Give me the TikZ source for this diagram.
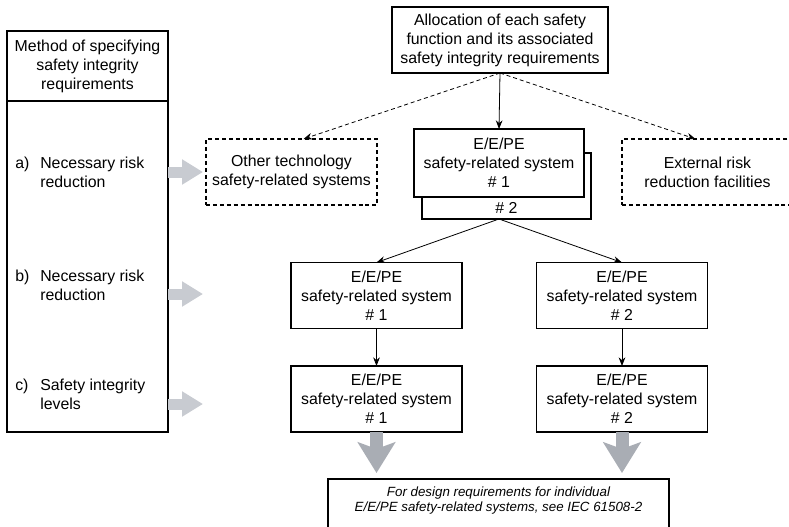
\documentclass[tikz,border=0pt]{standalone}
\usepackage{fontspec}
\setmainfont{Liberation Sans}
\usepackage{tikz}
\usetikzlibrary{positioning, arrows.meta, calc}
\definecolor{sidearr}{HTML}{c8cbd1}
\definecolor{downarr}{HTML}{a9adb4}

\begin{document}
\begin{tikzpicture}[x=0.75pt,y=-0.75pt,font=\fontsize{11.9}{14.25}\selectfont,
  bx/.style={draw, line width=0.8pt, inner sep=0pt, outer sep=0pt, align=center,
    minimum width=128.25pt, minimum height=49.5pt},
  dbx/.style={bx, dash pattern=on 3pt off 2.2pt},
  arr/.style={-{Stealth[length=6.5pt,width=5pt]}, line width=0.6pt},
  darr/.style={arr, dash pattern=on 3pt off 2.2pt},
  gside/.style={sidearr, line width=8.25pt, -{Triangle[length=15.75pt,width=18pt]}},
  gdown/.style={downarr, line width=9.75pt, -{Stealth[length=23pt,width=28pt,inset=5pt]}}]
\path[use as bounding box, clip](0,0) rectangle (789,526);

% left column
\node[bx,minimum width=120.75pt,minimum height=52.5pt](mhead) at (87.5,66){Method of specifying\\safety integrity\\requirements};
\node[bx,minimum width=120.75pt,minimum height=248.25pt,below=0pt of mhead](mbody){};
\node[anchor=west,align=left,inner sep=0pt](ia) at (15,172.5){\makebox[18.75pt][l]{a)}Necessary risk\\\hspace*{18.75pt}reduction};
\node[anchor=west,align=left,inner sep=0pt](ib) at (15,285){\makebox[18.75pt][l]{b)}Necessary risk\\\hspace*{18.75pt}reduction};
\node[anchor=west,align=left,inner sep=0pt](ic) at (15,394){\makebox[18.75pt][l]{c)}Safety integrity\\\hspace*{18.75pt}levels};

% top of the tree
\node[bx,minimum width=162pt](alloc) at (500,40){Allocation of each safety\\function and its associated\\safety integrity requirements};
\node[dbx](othr) at (291.5,172){Other technology\\safety-related systems};
\node[dbx](ext) at (707.5,172){External risk\\reduction facilities};
\node[bx,minimum width=126.75pt,label={[anchor=center,yshift=8.25pt]south:\# 2}](sys2) at (506.5,186){};
\node[bx,fill=white,minimum width=127.5pt,minimum height=51pt](sys1) at (499,163){E/E/PE\\safety-related system\\\# 1};

\foreach \n/\x/\y/\k in {rb1/376.5/295.5/1, rb2/622/295.5/2, rc1/376.5/399/1, rc2/622/399/2}{
  \node[bx](\n) at (\x,\y){E/E/PE\\safety-related system\\\# \k};}

\node[bx,anchor=north,minimum width=255.75pt,minimum height=10pt,inner ysep=6pt,text depth=30pt,
  font=\fontsize{10}{11.25}\selectfont\itshape](dsgn) at (498.5,479){For design requirements for individual\\E/E/PE safety-related systems, see IEC 61508-2};

% connectors
\draw[arr](alloc.south) -- (sys1.north);
\draw[darr](alloc.south) -- ([xshift=9pt]othr.north);
\draw[darr](alloc.south) -- ([xshift=-9pt]ext.north);
\coordinate (fork) at (sys1.south |- sys2.south);
\foreach \a/\b in {fork/rb1,fork/rb2}{
  \draw[arr](\a) -- (\b.north);}
\foreach \a/\b in {rb1/rc1,rb2/rc2}{
  \draw[arr](\a) -- (\b);}

% grey arrows
\coordinate (gb) at (203,294);
\coordinate (gc) at (203,404);
\draw[gside,shorten >=2.25pt](mbody.east |- othr.west) -- (othr.west);
\foreach \c in {gb,gc}{
  \draw[gside](mbody.east |- \c) -- (\c);}
\foreach \n in {rc1,rc2}{
  \draw[gdown,shorten >=4.5pt](\n.south) -- (\n.south |- dsgn.north);}

\end{tikzpicture}
\end{document}
